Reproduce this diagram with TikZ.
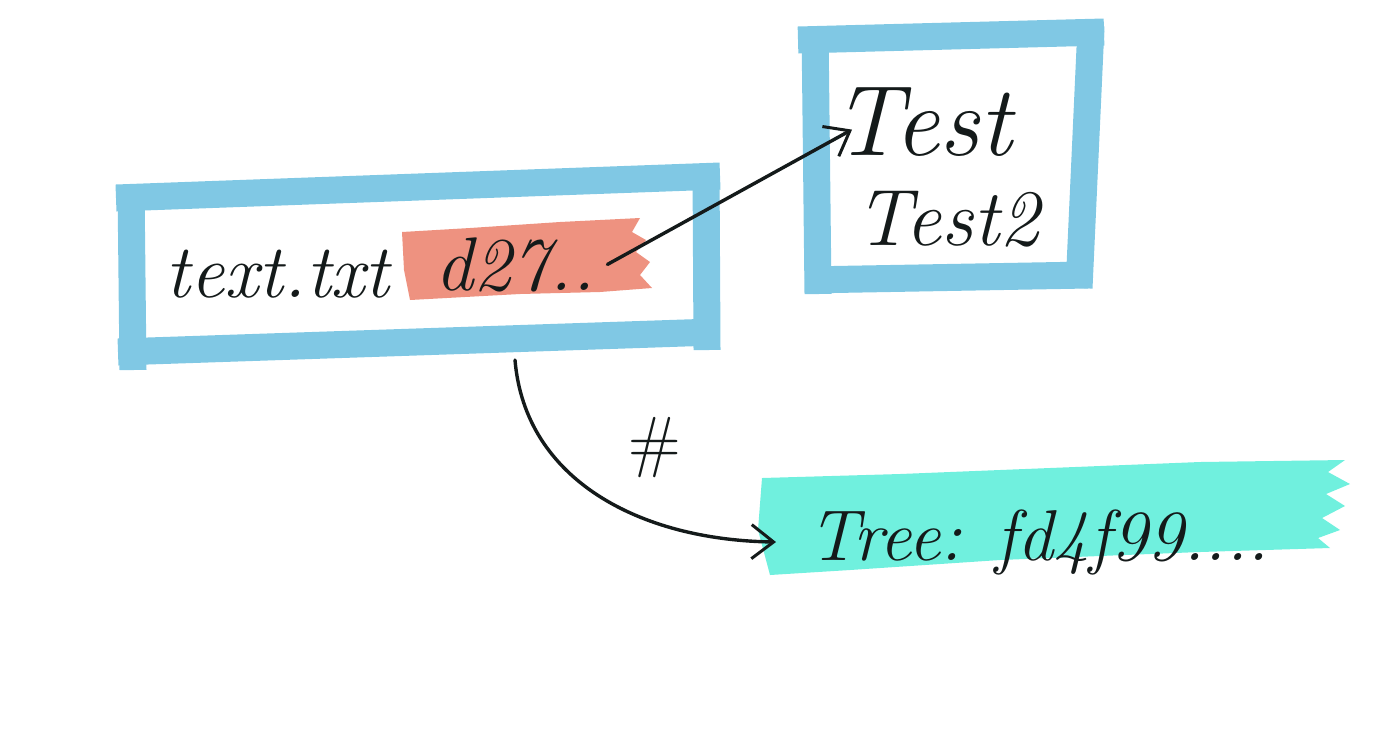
\documentclass[tikz,border=0pt]{standalone}
\usetikzlibrary{arrows.meta,calc}
\definecolor{frameblue}{HTML}{80C8E4}
\definecolor{salmon}{HTML}{EE9280}
\definecolor{teal}{HTML}{70F0DE}
\definecolor{ink}{HTML}{141A1A}
\tikzset{
  brush/.style={line width=13.5pt, draw=frameblue, line cap=butt},
  hand/.style={inner sep=0pt, text=ink, font=\itshape},
  conn/.style={draw=ink, line width=1.7pt, line cap=round, -{Straight Barb[length=11pt,width=17pt,line width=1.5pt]}}
}
\begin{document}
\begin{tikzpicture}[x=0.5pt,y=-0.5pt]
\useasboundingbox (0,0) rectangle (1400,735);
% box 1 frame
\draw[brush] (116,198) -- (720,176);
\draw[brush] (706,168) -- (707,350);
\draw[brush] (118,352) -- (714,332);
\draw[brush] (131,186) -- (133,370);
% box 2 frame
\draw[brush] (798,40) -- (1104,32);
\draw[brush] (1091,26) -- (1079,288);
\draw[brush] (805,280) -- (1088,275);
\draw[brush] (815,28) -- (818,294);
% salmon patch
\fill[salmon] (402,232) -- (470,228) -- (560,222) -- (640,218) -- (632,232) -- (646,240) -- (636,252) -- (650,262) -- (640,275) -- (652,288) -- (600,292) -- (520,294) -- (410,300) -- (404,270) -- cycle;
% teal patch
\fill[teal] (762,478) -- (900,474) -- (1050,468) -- (1200,462) -- (1345,460) -- (1328,472) -- (1350,484) -- (1326,494) -- (1345,506) -- (1322,518) -- (1340,530) -- (1318,538) -- (1330,548) -- (1200,552) -- (1000,560) -- (850,570) -- (770,575) -- (758,530) -- cycle;
% texts
\node[hand, anchor=base west, font=\itshape\fontsize{38}{40}\selectfont] (name) at (165,297) {text.txt};
\node[hand, anchor=base west, font=\itshape\fontsize{38}{40}\selectfont] (d27) at (435,290) {d27..};
\node[hand, anchor=base west, font=\itshape\fontsize{50}{52}\selectfont] (test) at (832,155) {Test};
\node[hand, anchor=base west, font=\itshape\fontsize{40}{42}\selectfont] (test2) at (855,245) {Test2};
\node[hand, anchor=base west, font=\itshape\fontsize{36}{38}\selectfont] (tree) at (808,560) {Tree: fd4f99....};
\node[hand, font=\fontsize{34}{36}\selectfont] (sharp) at (655,448) {\#};
% connectors
\coordinate (b1) at (515,360);
\draw[conn] ($(d27.east)+(12,0)$) -- ($(test.west)+(20,8)$);
\draw[conn] (b1) .. controls (525,480) and (640,540) .. ($(tree.west)+(-32,0)$);
\end{tikzpicture}
\end{document}
